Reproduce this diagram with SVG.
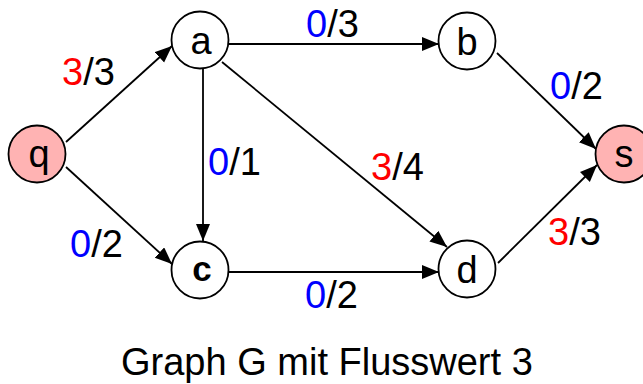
<svg xmlns="http://www.w3.org/2000/svg" width="643" height="384" viewBox="0 0 643 384">
<style>
.n{fill:#fff;stroke:#000;stroke-width:1.8}
.st{fill:#ffb3b3}
.t{font-family:"Liberation Sans",Arial,sans-serif;font-size:38px;fill:#000}
.c{text-anchor:middle}
.r{fill:#ff0000}
.b{fill:#0000ff}
.e{stroke:#000;stroke-width:1.8;fill:none;marker-end:url(#ah)}
</style>
<defs>
<marker id="ah" markerUnits="userSpaceOnUse" markerWidth="18" markerHeight="16" refX="17" refY="7" orient="auto">
<path d="M0,0 L17,7 L0,14 z" fill="#000"/>
</marker>
</defs>
<g id="connectors">
<line class="e" x1="66" y1="142" x2="172" y2="46"/>
<line class="e" x1="66" y1="167" x2="172" y2="264"/>
<line class="e" x1="203" y1="69" x2="203" y2="241"/>
<line class="e" x1="228" y1="44" x2="439" y2="44"/>
<line class="e" x1="222" y1="62" x2="447" y2="247"/>
<line class="e" x1="497" y1="53" x2="596" y2="149"/>
<line class="e" x1="229" y1="272" x2="439" y2="272"/>
<line class="e" x1="498" y1="263" x2="597" y2="165"/>
</g>
<g id="labels" class="t">
<text x="62" y="85"><tspan class="r">3</tspan>/3</text>
<text x="70" y="257"><tspan class="b">0</tspan>/2</text>
<text x="208" y="175"><tspan class="b">0</tspan>/1</text>
<text x="306" y="37"><tspan class="b">0</tspan>/3</text>
<text x="371" y="180"><tspan class="r">3</tspan>/4</text>
<text x="550" y="99"><tspan class="b">0</tspan>/2</text>
<text x="305" y="308"><tspan class="b">0</tspan>/2</text>
<text x="548" y="245"><tspan class="r">3</tspan>/3</text>
</g>
<g id="node-q"><circle class="n st" cx="37" cy="154" r="28.5"/><text class="t c" x="39" y="167">q</text></g>
<g id="node-a"><circle class="n" cx="200" cy="40" r="28.5"/><text class="t c" x="201" y="54">a</text></g>
<g id="node-b"><circle class="n" cx="467" cy="41" r="28.5"/><text class="t c" x="467" y="55">b</text></g>
<g id="node-c"><circle class="n" cx="200" cy="270" r="28.5"/><text class="t c" x="202" y="281" style="font-weight:bold;font-size:35px">c</text></g>
<g id="node-d"><circle class="n" cx="467" cy="269" r="28.5"/><text class="t c" x="467" y="283">d</text></g>
<g id="node-s"><circle class="n st" cx="624" cy="154" r="28.5"/><text class="t c" x="624" y="167">s</text></g>
<text id="caption" class="t" x="121" y="375">Graph G mit Flusswert 3</text>
</svg>
